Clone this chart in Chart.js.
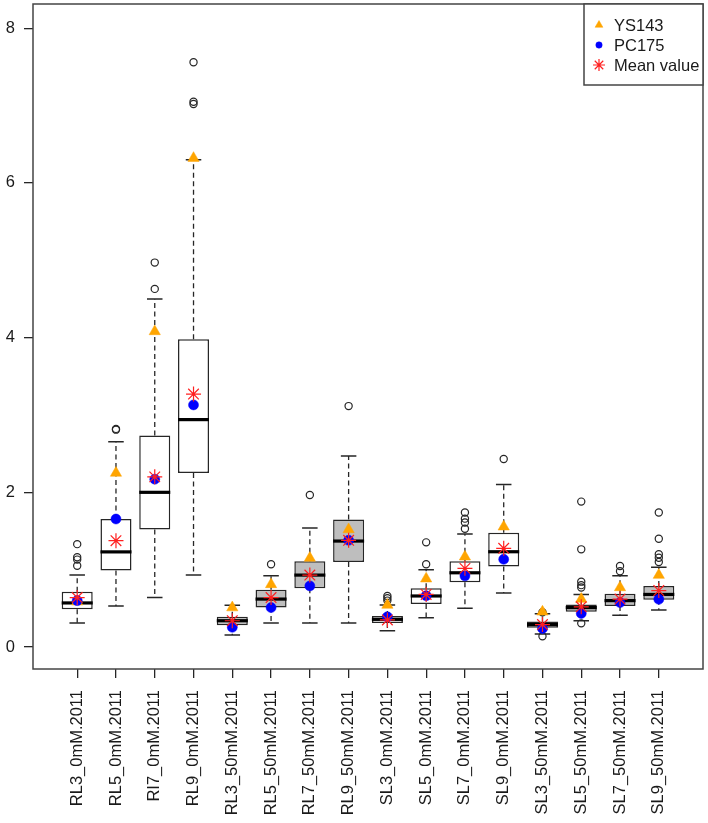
<!DOCTYPE html>
<html>
<head>
<meta charset="utf-8">
<script src="https://cdn.jsdelivr.net/npm/chart.js@4/dist/chart.umd.min.js"></script>
<style>
  html, body { margin: 0; padding: 0; background: #fff; }
  #wrap { width: 708px; height: 823px; }
</style>
</head>
<body>
<div id="wrap"><canvas id="boxChart" width="708" height="823"></canvas></div>
<script>
// ========================
// DATA
// ========================
const categories = [
  "RL3_0mM.2011", "RL5_0mM.2011", "RI7_0mM.2011", "RL9_0mM.2011",
  "RL3_50mM.2011", "RL5_50mM.2011", "RL7_50mM.2011", "RL9_50mM.2011",
  "SL3_0mM.2011", "SL5_0mM.2011", "SL7_0mM.2011", "SL9_0mM.2011",
  "SL3_50mM.2011", "SL5_50mM.2011", "SL7_50mM.2011", "SL9_50mM.2011"
];

const whiskerLow  = [0.31, 0.53, 0.64, 0.93, 0.155, 0.31, 0.31, 0.31, 0.21, 0.38, 0.50, 0.70, 0.17, 0.34, 0.41, 0.48];
const q1          = [0.49, 0.99, 1.52, 2.25, 0.28, 0.51, 0.76, 1.10, 0.31, 0.556, 0.836, 1.04, 0.25, 0.456, 0.53, 0.61];
const median      = [0.57, 1.23, 2.00, 2.94, 0.34, 0.62, 0.93, 1.37, 0.358, 0.66, 0.96, 1.232, 0.29, 0.51, 0.60, 0.68];
const q3          = [0.715, 1.655, 2.735, 3.98, 0.39, 0.74, 1.11, 1.65, 0.40, 0.76, 1.11, 1.478, 0.33, 0.55, 0.69, 0.79];
const whiskerHigh = [0.93, 2.655, 4.50, 6.30, 0.54, 0.92, 1.54, 2.47, 0.543, 1.00, 1.46, 2.10, 0.43, 0.68, 0.92, 1.03];

const outliers = [
  [1.33, 1.16, 1.13, 1.05], [2.82, 2.81], [4.97, 4.63], [7.56, 7.05, 7.02],
  [], [1.07], [1.965], [3.115],
  [0.66, 0.63, 0.60], [1.353, 1.07], [1.74, 1.66, 1.61, 1.53], [2.43],
  [0.45, 0.14], [1.88, 1.263, 0.845, 0.80, 0.77, 0.306], [1.047, 0.98], [1.74, 1.40, 1.20, 1.155, 1.10]
];

const ys143     = [0.585, 2.25, 4.08, 6.32, 0.51, 0.81, 1.15, 1.52, 0.543, 0.883, 1.167, 1.555, 0.455, 0.62, 0.77, 0.93];
const pc175     = [0.60, 1.655, 2.17, 3.13, 0.255, 0.51, 0.79, 1.38, 0.39, 0.663, 0.92, 1.134, 0.24, 0.435, 0.575, 0.617];
const meanValue = [0.64, 1.375, 2.20, 3.27, 0.34, 0.64, 0.93, 1.38, 0.35, 0.68, 1.017, 1.276, 0.29, 0.52, 0.62, 0.73];

const yTicks = [0, 2, 4, 6, 8];

// ========================
// HELPERS
// ========================
const INK = "#262626";
const FONT = { family: "'Liberation Sans', Arial, sans-serif", size: 16.5 };

const pos = categories.map((c, i) => i + 1);
const toPoints = (arr) => arr.map((v, i) => ({ x: pos[i], y: v }));
const outlierPoints = [];
outliers.forEach((list, i) => list.forEach((v) => outlierPoints.push({ x: pos[i], y: v })));
const boxFill = categories.map((c) => (c.includes("_50mM") ? "#bebebe" : "#ffffff"));

// whiskers, caps, medians drawn through the scales
const boxParts = {
  id: "boxParts",
  beforeDatasetsDraw(chart) {
    const { ctx, scales } = chart;
    const meta = chart.getDatasetMeta(0);
    ctx.save();
    ctx.strokeStyle = INK;
    pos.forEach((p, i) => {
      const x = scales.x.getPixelForValue(p);
      const w = meta.data[i].width;
      const half = w / 4;
      ctx.lineWidth = 1.3;
      ctx.setLineDash([5, 3.5]);
      ctx.beginPath();
      ctx.moveTo(x, scales.y.getPixelForValue(q3[i]));
      ctx.lineTo(x, scales.y.getPixelForValue(whiskerHigh[i]));
      ctx.moveTo(x, scales.y.getPixelForValue(q1[i]));
      ctx.lineTo(x, scales.y.getPixelForValue(whiskerLow[i]));
      ctx.stroke();
      ctx.setLineDash([]);
      ctx.lineWidth = 1.5;
      ctx.beginPath();
      const yh = scales.y.getPixelForValue(whiskerHigh[i]);
      const yl = scales.y.getPixelForValue(whiskerLow[i]);
      ctx.moveTo(x - half, yh);
      ctx.lineTo(x + half, yh);
      ctx.moveTo(x - half, yl);
      ctx.lineTo(x + half, yl);
      ctx.stroke();
    });
    ctx.restore();
  },
  afterDatasetDraw(chart, args) {
    if (args.index !== 0) return;
    const { ctx, scales } = chart;
    const meta = args.meta;
    ctx.save();
    ctx.strokeStyle = "#000";
    ctx.lineWidth = 3.2;
    pos.forEach((p, i) => {
      const x = scales.x.getPixelForValue(p);
      const w = meta.data[i].width;
      const y = scales.y.getPixelForValue(median[i]);
      ctx.beginPath();
      ctx.moveTo(x - w / 2, y);
      ctx.lineTo(x + w / 2, y);
      ctx.stroke();
    });
    ctx.restore();
  },
  afterDraw(chart) {
    const { ctx, chartArea: a } = chart;
    ctx.save();
    ctx.strokeStyle = "#444";
    ctx.lineWidth = 1.5;
    ctx.strokeRect(a.left, a.top, a.right - a.left, a.bottom - a.top);

    // legend box in the top right corner
    const items = chart.data.datasets.filter((d) => d.inLegend);
    const bw = 119, bh = 81;
    const bx = a.right - bw, by = a.top;
    ctx.fillStyle = "#fff";
    ctx.fillRect(bx, by, bw, bh);
    ctx.strokeRect(bx, by, bw, bh);
    ctx.font = FONT.size + "px " + FONT.family;
    ctx.textBaseline = "middle";
    items.forEach((d, k) => {
      const cy = by + 21 + k * 20;
      ctx.fillStyle = d.pointBackgroundColor;
      ctx.strokeStyle = d.pointBorderColor;
      ctx.lineWidth = d.pointBorderWidth;
      Chart.helpers.drawPoint(ctx, {
        pointStyle: d.pointStyle,
        radius: d.legendRadius,
        borderWidth: d.pointBorderWidth,
        rotation: 0
      }, bx + 15, cy);
      ctx.fillStyle = "#1a1a1a";
      ctx.fillText(d.label, bx + 30, cy + 1);
    });
    ctx.restore();
  }
};

// ========================
// CHART
// ========================
const ctx = document.getElementById("boxChart");

new Chart(ctx, {
  type: "bar",
  data: {
    datasets: [
      {
        type: "bar",
        label: "box",
        data: pos.map((p, i) => ({ x: p, y: [q1[i], q3[i]] })),
        backgroundColor: boxFill,
        borderColor: INK,
        borderWidth: 1.5,
        borderSkipped: false,
        barPercentage: 1,
        categoryPercentage: 0.8,
        order: 10
      },
      {
        type: "scatter",
        label: "outliers",
        data: outlierPoints,
        pointStyle: "circle",
        pointRadius: 3.6,
        pointBackgroundColor: "rgba(0,0,0,0)",
        pointBorderColor: INK,
        pointBorderWidth: 1.2,
        order: 5
      },
      {
        type: "scatter",
        label: "YS143",
        inLegend: true,
        data: toPoints(ys143),
        pointStyle: "triangle",
        pointRadius: 6.5,
        legendRadius: 4.5,
        pointBackgroundColor: "#ffa500",
        pointBorderColor: "#ffa500",
        pointBorderWidth: 0.5,
        order: 3
      },
      {
        type: "scatter",
        label: "PC175",
        inLegend: true,
        data: toPoints(pc175),
        pointStyle: "circle",
        pointRadius: 5,
        legendRadius: 3.2,
        pointBackgroundColor: "#0000ff",
        pointBorderColor: "#0000ff",
        pointBorderWidth: 0.5,
        order: 2
      },
      {
        type: "scatter",
        label: "Mean value",
        inLegend: true,
        data: toPoints(meanValue),
        pointStyle: "star",
        pointRadius: 7.5,
        legendRadius: 6,
        pointBackgroundColor: "#ff0000",
        pointBorderColor: "#ff2020",
        pointBorderWidth: 1.2,
        order: 1
      }
    ]
  },
  options: {
    responsive: false,
    animation: false,
    events: [],
    layout: { autoPadding: false, padding: { top: 4, right: 5, left: 0, bottom: 0 } },
    plugins: { legend: { display: false }, tooltip: { enabled: false } },
    scales: {
      x: {
        type: "linear",
        min: -0.14,
        max: 17.14,
        offset: false,
        afterBuildTicks: (scale) => {
          scale.ticks = pos.map((p) => ({ value: p }));
        },
        afterFit: (scale) => {
          scale.height = 154;
          scale.paddingLeft = 0;
          scale.paddingRight = 0;
        },
        ticks: {
          autoSkip: false,
          minRotation: 90,
          maxRotation: 90,
          padding: 12,
          color: "#1a1a1a",
          font: FONT,
          callback: (v) => categories[v - 1] || ""
        },
        grid: { display: true, offset: false, drawOnChartArea: false, drawTicks: true, tickLength: 9, color: INK, lineWidth: 1.3 },
        border: { display: false }
      },
      y: {
        type: "linear",
        min: -0.284,
        max: 8.313,
        afterBuildTicks: (scale) => {
          scale.ticks = yTicks.map((v) => ({ value: v }));
        },
        afterFit: (scale) => {
          scale.width = 33;
          scale.paddingTop = 0;
          scale.paddingBottom = 0;
        },
        ticks: { padding: 9, color: "#1a1a1a", font: FONT },
        grid: { display: true, drawOnChartArea: false, drawTicks: true, tickLength: 9, color: INK, lineWidth: 1.3 },
        border: { display: false }
      }
    }
  },
  plugins: [boxParts]
});
</script>
</body>
</html>
